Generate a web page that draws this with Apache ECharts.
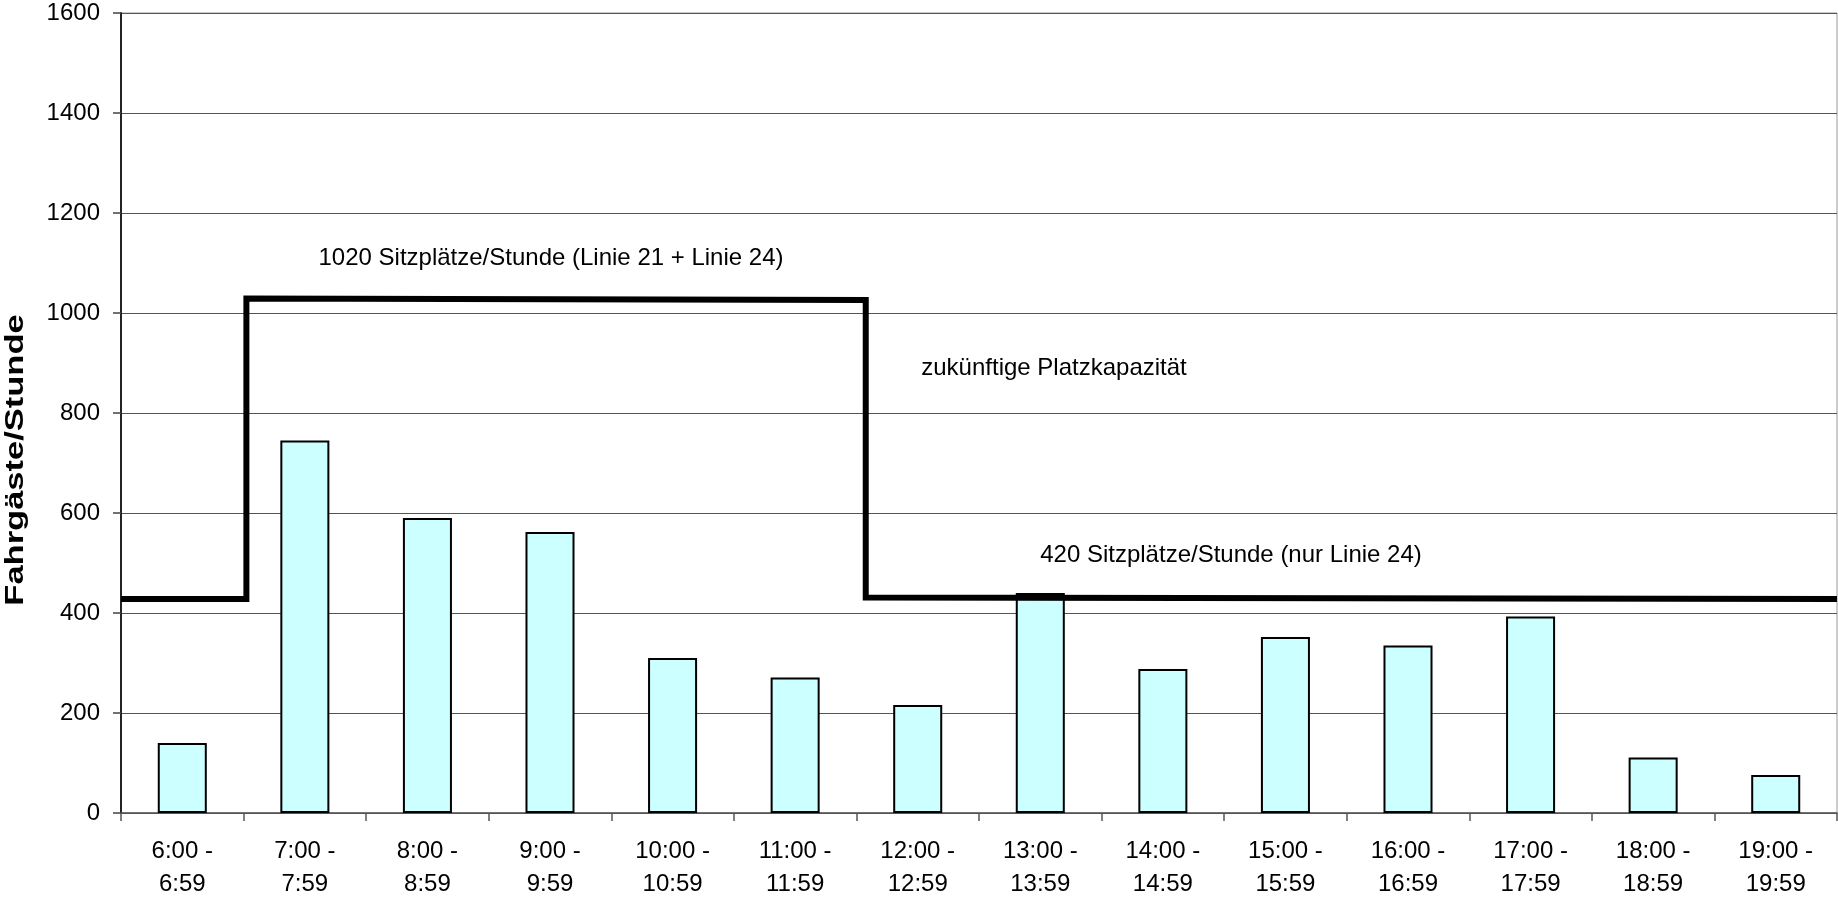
<!DOCTYPE html>
<html>
<head>
<meta charset="utf-8">
<script src="https://cdn.jsdelivr.net/npm/echarts@6/dist/echarts.min.js"></script>
<style>
html,body{margin:0;padding:0;background:#fff;}
#chart{width:1838px;height:901px;}
</style>
</head>
<body>
<div id="chart"></div>
<script>
// Categories (hour slots)
const categories = ['6:00 -\n6:59','7:00 -\n7:59','8:00 -\n8:59','9:00 -\n9:59','10:00 -\n10:59','11:00 -\n11:59','12:00 -\n12:59','13:00 -\n13:59','14:00 -\n14:59','15:00 -\n15:59','16:00 -\n16:59','17:00 -\n17:59','18:00 -\n18:59','19:00 -\n19:59'];
// Passengers per hour
const passengers = [140, 745, 590, 562, 310, 271, 216, 440, 288, 352, 335, 393, 111, 76];
// Future seat capacity step line (x in category units, y in seats/hour)
const capacityX = [0, 1.023, 1.023, 6.076, 6.076, 14];
const capacityY = [428, 428, 1029, 1026, 431, 428];
// Y axis ticks
const yMin = 0, yMax = 1600, yInterval = 200;

const FONT = '"Liberation Sans", Arial, sans-serif';
const chart = echarts.init(document.getElementById('chart'));

chart.setOption({
  animation: false,
  backgroundColor: '#ffffff',
  grid: { left: 121, right: 1, top: 13, bottom: 88, show: true, borderColor: '#999', borderWidth: 1 },
  xAxis: [{
    type: 'category',
    data: categories,
    boundaryGap: true,
    axisLine: { show: true, lineStyle: { color: '#555', width: 1.5 } },
    axisTick: { show: true, length: 8, lineStyle: { color: '#555', width: 1.5 } },
    axisLabel: { color: '#000', fontFamily: FONT, fontSize: 24, lineHeight: 33, margin: 22, interval: 0 },
    splitLine: { show: false }
  }, {
    type: 'value',
    min: 0, max: 14,
    show: false
  }],
  yAxis: {
    type: 'value',
    min: yMin, max: yMax, interval: yInterval,
    axisLine: { show: true, lineStyle: { color: '#222', width: 2 } },
    axisTick: { show: true, length: 8, lineStyle: { color: '#444', width: 1.5 } },
    axisLabel: { color: '#000', fontFamily: FONT, fontSize: 24, margin: 21, formatter: v => String(v) },
    splitLine: { show: true, lineStyle: { color: '#555', width: 1 } }
  },
  series: [{
    type: 'bar',
    data: passengers,
    barWidth: '40%',
    itemStyle: { color: '#CCFFFF', borderColor: '#000', borderWidth: 2 },
    z: 2
  }, {
    type: 'line',
    xAxisIndex: 1,
    data: capacityX.map((x, i) => [x, capacityY[i]]),
    showSymbol: false,
    symbol: 'none',
    lineStyle: { color: '#000', width: 6, join: 'miter', cap: 'butt' },
    z: 3
  }],
  graphic: [{
    type: 'text', x: 551, y: 258,
    style: { text: '1020 Sitzplätze/Stunde (Linie 21 + Linie 24)', font: '24px ' + FONT, fill: '#000', textAlign: 'center', textVerticalAlign: 'middle' }
  }, {
    type: 'text', x: 1054, y: 368,
    style: { text: 'zukünftige Platzkapazität', font: '24px ' + FONT, fill: '#000', textAlign: 'center', textVerticalAlign: 'middle' }
  }, {
    type: 'text', x: 1231, y: 555,
    style: { text: '420 Sitzplätze/Stunde (nur Linie 24)', font: '24px ' + FONT, fill: '#000', textAlign: 'center', textVerticalAlign: 'middle' }
  }, {
    type: 'text', x: 16, y: 460, rotation: Math.PI / 2, scaleX: 1.38,
    style: { text: 'Fahrgäste/Stunde', font: 'bold 25px ' + FONT, fill: '#000', textAlign: 'center', textVerticalAlign: 'middle' }
  }]
});
</script>
</body>
</html>
